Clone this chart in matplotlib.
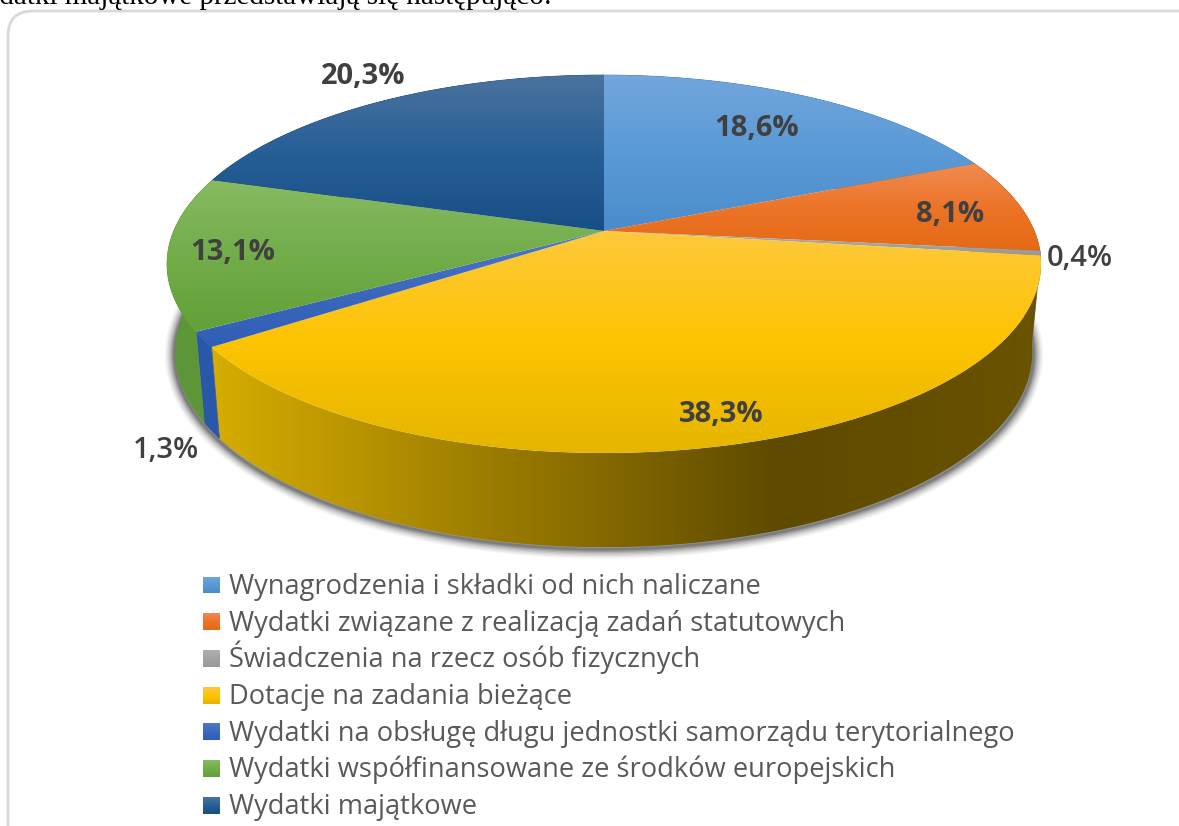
import numpy as np
import matplotlib
matplotlib.use("Agg")
import matplotlib.pyplot as plt
from matplotlib.colors import to_rgb
from matplotlib.patches import FancyBboxPatch, Polygon

categories = ["Wynagrodzenia i składki od nich naliczane",
              "Wydatki związane z realizacją zadań statutowych",
              "Świadczenia na rzecz osób fizycznych",
              "Dotacje na zadania bieżące",
              "Wydatki na obsługę długu jednostki samorządu terytorialnego",
              "Wydatki współfinansowane ze środków europejskich",
              "Wydatki majątkowe"]
values = [18.6, 8.1, 0.4, 38.3, 1.3, 13.1, 20.3]
value_labels = ["18,6%", "8,1%", "0,4%", "38,3%", "1,3%", "13,1%", "20,3%"]
label_weights = ["bold", "bold", "semibold", "bold", "semibold", "bold", "bold"]
top_light = ["#72a6dc", "#f28a50", "#b0b0b0", "#fec93c", "#4f78c8", "#88ba62", "#4b729f"]
top_mid = ["#5a9ad6", "#ec7428", "#a4a4a4", "#fdc402", "#3c68bd", "#72ad4a", "#265f96"]
top_dark = ["#4a8ccb", "#e56a14", "#989898", "#e5b500", "#2f5fb5", "#62a038", "#174e85"]
side_colors = ["#3a75ad", "#b85510", "#777777", "#d8ae00", "#2a58a8", "#5c9636", "#154070"]
wall_mid = "#5e4a00"
wall_end = "#6a5300"
label_pos = [(757, 128), (950, 214), (1080, 258), (721, 414), (166, 451), (233, 253), (363, 77)]

W, H = 1179, 826
apex_x, apex_y = 604, 231
A, U, k = 430.3, 183.2, 0.1746
depth, sx, sy = 87.6, 0.98, 1.03

fig = plt.figure(figsize=(W / 100, H / 100), dpi=100)
ax = fig.add_axes([0, 0, 1, 1])
ax.axis("off")


def rim(t):
    # clock angle on the disc -> picture position, with the perspective of the 3D pie
    w = 1 + k * np.cos(t)
    return A * np.sin(t) / w, -U * np.cos(t) / w


def ramp(colors, n=256):
    f = np.linspace(0, len(colors) - 1, n)
    rgb = np.array([to_rgb(c) for c in colors])
    return np.column_stack([np.interp(f, np.arange(len(colors)), rgb[:, j]) for j in range(3)])


def gradient(poly_xy, colors, horizontal=False, x_range=None, z=2):
    x0, y0 = poly_xy.min(axis=0)
    x1, y1 = poly_xy.max(axis=0)
    if horizontal:
        x0, x1 = x_range
        img = ramp(colors)[None, :, :]
    else:
        img = ramp(colors)[:, None, :]
    im = ax.imshow(img, extent=(x0, x1, y1, y0), aspect="auto", zorder=z, interpolation="bilinear")
    clip = Polygon(poly_xy, closed=True, transform=ax.transData, fc="none", ec="none")
    ax.add_patch(clip)
    im.set_clip_path(clip)
    return im


edges = np.cumsum([0] + values) / sum(values) * 2 * np.pi

# soft shadow under the front of the pie
t = np.linspace(np.radians(92), np.radians(288), 300)
rx, ry = rim(t)
for lw, a in [(14, 0.04), (12, 0.06), (10, 0.08), (8, 0.1), (6, 0.14), (4, 0.2), (2, 0.25)]:
    ax.plot(apex_x + 1.003 * sx * rx, apex_y + depth + sy * ry + 2, color="#303030", lw=lw, alpha=a, zorder=1,
            solid_capstyle="round")

# side walls
for i in range(len(values)):
    t = np.linspace(edges[i], edges[i + 1], 200)
    rx, ry = rim(t)
    upper = np.column_stack([apex_x + rx, apex_y + ry])
    lower = np.column_stack([apex_x + sx * rx, apex_y + depth + sy * ry])
    poly = np.vstack([upper, lower[::-1]])
    if i == 3:
        # the long wall darkens from left to right, then lightens a little
        gradient(poly, [side_colors[i], wall_mid], horizontal=True, x_range=(205, 780), z=2)
        gradient(poly, [wall_mid, wall_end], horizontal=True, x_range=(780, 1045), z=2)
    else:
        ax.add_patch(Polygon(poly, closed=True, fc=side_colors[i], ec=side_colors[i], lw=0.5, zorder=2))

# top faces
for i in range(len(values)):
    t = np.linspace(edges[i], edges[i + 1], 200)
    rx, ry = rim(t)
    poly = np.vstack([[apex_x, apex_y], np.column_stack([apex_x + rx, apex_y + ry])])
    gradient(poly, [top_light[i], top_mid[i], top_dark[i]], z=3)

for i, (lx, ly) in enumerate(label_pos):
    ax.text(lx, ly, value_labels[i], fontsize=21, fontweight=label_weights[i], family="Open Sans",
            color="#404040", ha="center", va="center", zorder=5)

# legend
for i, name in enumerate(categories):
    cy = 585 + i * 36.67
    key = np.array([[203, cy - 8.5], [220, cy - 8.5], [220, cy + 8.5], [203, cy + 8.5]])
    gradient(key, [top_light[i], top_mid[i], top_dark[i]], z=4)
    ax.text(229, cy + 9, name, fontsize=19.6, family="Open Sans", color="#595959", ha="left", va="baseline",
            zorder=5)

# chart frame and the line of the document above it
ax.add_patch(FancyBboxPatch((33, 36), 1180, 820, boxstyle="round,pad=25,rounding_size=25", fc="none",
                            ec="#d9d9d9", lw=2, zorder=1))
ax.text(552, 4, "Wydatki majątkowe przedstawiają się następująco:", fontsize=21, family="Liberation Serif",
        color="black", ha="right", va="baseline")

ax.set_xlim(0, W)
ax.set_ylim(H, 0)
fig.savefig("out.png", dpi=100)
